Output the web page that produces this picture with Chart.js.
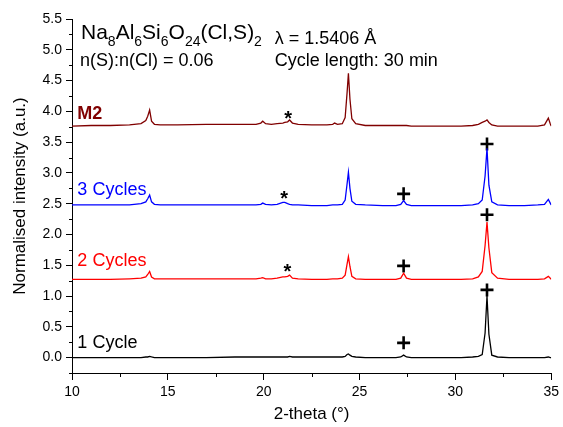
<!DOCTYPE html>
<html>
<head>
<meta charset="utf-8">
<script src="https://cdn.jsdelivr.net/npm/chart.js@4.4.1/dist/chart.umd.min.js"></script>
<style>
  body { margin: 0; background: #fff; }
  #wrap { width: 563px; height: 427px; }
</style>
</head>
<body>
<div id="wrap"><canvas id="xrd" width="563" height="427"></canvas></div>
<script>
// 2-theta grid shared by the four patterns (degrees)
const twoTheta = [10, 11, 12, 13,
  13.6, 13.85, 13.95, 14.05, 14.15, 14.3, 14.6,
  15.5, 17, 18.5,
  19.6, 19.85, 19.95, 20.1, 20.4, 20.7,
  21.0, 21.1, 21.25, 21.35, 21.5, 21.8,
  22.5, 23.3, 23.6, 23.7, 23.85,
  24.1, 24.25, 24.35, 24.42, 24.5, 24.6, 24.8,
  25.3, 26.2, 26.9,
  27.15, 27.3, 27.45, 27.7,
  28.5, 29.5, 30.3, 30.9,
  31.2, 31.4, 31.55, 31.65, 31.75, 31.9,
  32.2, 32.8, 33.6, 34.3,
  34.65, 34.85, 34.95, 35];

// normalised intensities, already offset as in the figure
const m2 = [3.76, 3.77, 3.77, 3.78,
  3.80, 3.85, 3.92, 4.02, 3.84, 3.79, 3.78,
  3.78, 3.79, 3.79,
  3.79, 3.81, 3.84, 3.80, 3.79, 3.80,
  3.81, 3.82, 3.83, 3.86, 3.81, 3.79,
  3.78, 3.78, 3.79, 3.81, 3.79,
  3.80, 3.90, 4.30, 4.62, 4.20, 3.88, 3.80,
  3.77, 3.77, 3.77,
  3.77, 3.77, 3.77, 3.76,
  3.76, 3.76, 3.76, 3.77,
  3.79, 3.82, 3.84, 3.86, 3.82, 3.78,
  3.76, 3.76, 3.76, 3.76,
  3.78, 3.89, 3.80, 3.76];

const cycles3 = [2.48, 2.48, 2.48, 2.48,
  2.50, 2.53, 2.58, 2.64, 2.53, 2.49, 2.48,
  2.48, 2.48, 2.48,
  2.48, 2.49, 2.51, 2.49, 2.48, 2.49,
  2.52, 2.52, 2.50, 2.49, 2.48, 2.48,
  2.47, 2.47, 2.48, 2.48, 2.48,
  2.49, 2.56, 2.82, 3.01, 2.75, 2.54, 2.49,
  2.48, 2.47, 2.47,
  2.49, 2.55, 2.49, 2.47,
  2.47, 2.47, 2.47, 2.48,
  2.50, 2.56, 2.95, 3.40, 2.80, 2.53,
  2.48, 2.47, 2.47, 2.48,
  2.49, 2.57, 2.51, 2.48];

const cycles2 = [1.27, 1.27, 1.27, 1.28,
  1.29, 1.31, 1.35, 1.40, 1.31, 1.28, 1.28,
  1.28, 1.28, 1.28,
  1.28, 1.29, 1.30, 1.28, 1.28, 1.29,
  1.31, 1.31, 1.32, 1.34, 1.29, 1.28,
  1.27, 1.27, 1.28, 1.28, 1.28,
  1.29, 1.34, 1.52, 1.64, 1.48, 1.32, 1.28,
  1.27, 1.27, 1.27,
  1.29, 1.37, 1.29, 1.27,
  1.27, 1.27, 1.27, 1.28,
  1.31, 1.40, 1.82, 2.20, 1.78, 1.38,
  1.29, 1.27, 1.27, 1.27,
  1.28, 1.32, 1.29, 1.27];

const cycles1 = [0.00, 0.00, 0.00, 0.00,
  0.00, 0.01, 0.01, 0.02, 0.01, 0.00, 0.00,
  0.00, 0.00, 0.01,
  0.01, 0.01, 0.01, 0.01, 0.01, 0.01,
  0.01, 0.01, 0.01, 0.02, 0.01, 0.01,
  0.01, 0.01, 0.01, 0.01, 0.01,
  0.01, 0.02, 0.05, 0.06, 0.04, 0.02, 0.01,
  0.00, 0.00, 0.00,
  0.01, 0.04, 0.01, 0.00,
  0.00, 0.00, 0.00, 0.01,
  0.02, 0.05, 0.40, 1.00, 0.38, 0.04,
  0.01, 0.00, 0.00, 0.00,
  0.00, 0.01, 0.00, 0.00];

const seriesNames = ['M2', '3 Cycles', '2 Cycles', '1 Cycle'];
const seriesColors = ['#800000', '#0000ff', '#ff0000', '#000000'];

// NaCl reflections marked "+", impurity marked "*"
const plusX = [27.3, 31.65, 27.3, 31.65, 27.3, 31.65];
const plusY = [2.66, 3.47, 1.49, 2.32, 0.24, 1.10];
const starX = [21.28, 21.07, 21.24];
const starY = [3.96, 2.65, 1.47];

const yTicks = [0, 0.5, 1, 1.5, 2, 2.5, 3, 3.5, 4, 4.5, 5, 5.5];

const FONT = '"Liberation Sans", Arial, sans-serif';
Chart.defaults.font.family = FONT;
Chart.defaults.color = '#000';

function pts(ys) {
  return twoTheta.map((t, i) => ({ x: t, y: ys[i] }));
}

const lineSets = [m2, cycles3, cycles2, cycles1].map((ys, i) => ({
  type: 'line',
  label: seriesNames[i],
  data: pts(ys),
  borderColor: seriesColors[i],
  borderWidth: 1.3,
  pointRadius: 0,
  tension: 0
}));

const plusSet = {
  type: 'scatter',
  label: 'NaCl',
  data: plusX.map((x, i) => ({ x: x, y: plusY[i] })),
  pointStyle: 'cross',
  pointRadius: 6.5,
  borderColor: '#000',
  borderWidth: 2.6
};

// text, minor ticks and the formula block
const notes = {
  id: 'notes',
  afterDraw(chart) {
    const { ctx, scales: { x, y } } = chart;
    ctx.save();

    // minor ticks
    ctx.strokeStyle = '#000';
    ctx.lineWidth = 1;
    ctx.beginPath();
    for (let k = 0; k < 5; k++) {
      const px = Math.round(x.getPixelForValue(12.5 + 5 * k)) + 0.5;
      ctx.moveTo(px, y.bottom);
      ctx.lineTo(px, y.bottom + 4);
    }
    for (let k = 0; k < 12; k++) {
      const py = Math.round(y.getPixelForValue(-0.25 + 0.5 * k)) + 0.5;
      ctx.moveTo(x.left, py);
      ctx.lineTo(x.left - 3, py);
    }
    ctx.stroke();

    function put(str, xv, yv, font, color) {
      ctx.font = font;
      ctx.fillStyle = color;
      ctx.textAlign = 'left';
      ctx.textBaseline = 'alphabetic';
      ctx.fillText(str, x.getPixelForValue(xv), y.getPixelForValue(yv));
    }

    // series labels
    put(seriesNames[0], 10.28, 3.87, 'bold 18px ' + FONT, seriesColors[0]);
    put(seriesNames[1], 10.28, 2.64, '18px ' + FONT, seriesColors[1]);
    put(seriesNames[2], 10.28, 1.49, '18px ' + FONT, seriesColors[2]);
    put(seriesNames[3], 10.28, 0.16, '18px ' + FONT, seriesColors[3]);

    // asterisks, centred on their marks
    ctx.font = 'bold 20px ' + FONT;
    ctx.fillStyle = '#000';
    ctx.textAlign = 'center';
    ctx.textBaseline = 'alphabetic';
    starX.forEach((sx, i) => {
      ctx.fillText('*', x.getPixelForValue(sx), y.getPixelForValue(starY[i]) + 11);
    });

    // formula with subscripts
    const parts = [['Na', 0], ['8', 1], ['Al', 0], ['6', 1], ['Si', 0], ['6', 1],
      ['O', 0], ['24', 1], ['(Cl,S)', 0], ['2', 1]];
    let cx = x.getPixelForValue(10.47);
    const by = y.getPixelForValue(5.17);
    ctx.textAlign = 'left';
    parts.forEach(([s, sub]) => {
      ctx.font = (sub ? '14px ' : '21px ') + FONT;
      ctx.fillText(s, cx, by + (sub ? 7 : 0));
      cx += ctx.measureText(s).width;
    });

    put('n(S):n(Cl) = 0.06', 10.42, 4.74, '18px ' + FONT, '#000');
    put('\u03bb = 1.5406 \u00c5', 20.58, 5.09, '18px ' + FONT, '#000');
    put('Cycle length: 30 min', 20.58, 4.74, '18px ' + FONT, '#000');

    ctx.restore();
  }
};

new Chart(document.getElementById('xrd'), {
  data: { datasets: [...lineSets, plusSet] },
  options: {
    responsive: false,
    animation: false,
    layout: { padding: { top: 19, right: 10, left: 0, bottom: 0 } },
    plugins: { legend: { display: false }, tooltip: { enabled: false } },
    scales: {
      x: {
        type: 'linear',
        min: 10,
        max: 35,
        afterFit(scale) { scale.height = 54; },
        ticks: { stepSize: 5, font: { size: 14 }, padding: 4, color: '#000' },
        grid: { drawOnChartArea: false, tickLength: 7, tickColor: '#000', tickWidth: 1 },
        border: { color: '#000', width: 1 },
        title: { display: true, text: '2-theta (\u00b0)', font: { size: 17 }, padding: { top: 0, bottom: 2 }, color: '#000' }
      },
      y: {
        type: 'linear',
        min: -0.25,
        max: 5.5,
        afterFit(scale) { scale.width = 72; },
        afterBuildTicks(scale) { scale.ticks = yTicks.map(v => ({ value: v })); },
        ticks: { font: { size: 14 }, padding: 4, color: '#000', callback: v => v.toFixed(1) },
        grid: { drawOnChartArea: false, tickLength: 6, tickColor: '#000', tickWidth: 1 },
        border: { color: '#000', width: 1 },
        title: { display: true, text: 'Normalised intensity (a.u.)', font: { size: 17 }, padding: { top: 10, bottom: 0 }, color: '#000' }
      }
    }
  },
  plugins: [notes]
});
</script>
</body>
</html>
